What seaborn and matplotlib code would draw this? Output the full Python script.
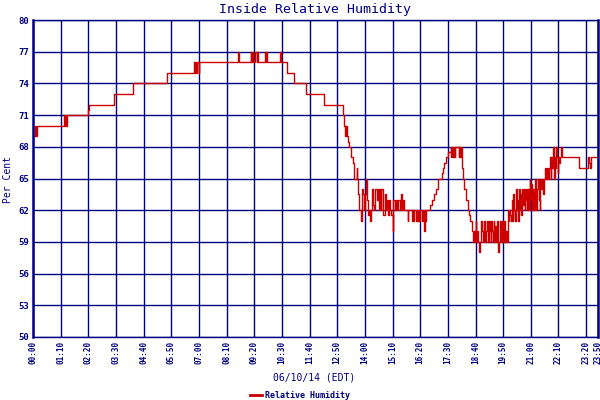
import matplotlib
matplotlib.use("Agg")
import matplotlib.pyplot as plt
import seaborn as sns
import pandas as pd

# ---- data (minutes after midnight, relative humidity %) ----
minutes = [
    0, 5, 7, 10, 78, 80, 82, 84, 86, 138, 141, 204, 253, 339,
    407, 409, 411, 413, 416, 419, 421, 519, 521, 551, 553, 555, 556,
    562, 566, 567, 569, 587, 589, 590, 591, 625, 628, 644, 661, 692, 737,
    785, 788, 790, 792, 794, 797, 800, 804, 810, 813, 819, 821,
    823, 826, 829, 831, 833, 836, 838, 840, 844, 846, 848, 851, 853, 856,
    858, 861, 864, 866, 870, 872, 875, 877, 880, 882, 885, 887, 890, 893,
    896, 898, 901, 904, 907, 910, 911, 916, 918, 922, 924, 930,
    932, 934, 936, 938, 948, 950, 959, 961, 963, 965, 969, 972, 974, 976,
    978, 980, 984, 986, 989, 991, 993, 995,
    1006, 1010, 1016, 1019, 1024, 1035, 1038, 1041, 1046, 1050, 1057,
    1059, 1061, 1063, 1065, 1067, 1069, 1077, 1079, 1081, 1083,
    1085, 1088, 1092, 1096, 1100, 1104, 1107, 1110, 1113,
    1116, 1118, 1120, 1122, 1125, 1127, 1130, 1132, 1135, 1137, 1139, 1142,
    1144, 1147, 1149, 1151, 1154, 1156, 1158, 1160, 1162, 1164, 1166, 1168,
    1170, 1172, 1175, 1177, 1179, 1182, 1184, 1186, 1188, 1190, 1193, 1195,
    1197, 1199,
    1202, 1204, 1206, 1208, 1210,
    1212, 1214, 1216, 1218, 1220, 1222, 1224, 1226, 1228, 1230, 1232, 1234,
    1236, 1238, 1240, 1242, 1244, 1246, 1248, 1250,
    1253, 1255, 1257, 1259, 1261, 1263, 1265, 1267, 1270, 1272, 1274, 1276,
    1278, 1280, 1282, 1284, 1286,
    1288, 1291, 1293, 1295, 1298, 1300, 1303, 1305, 1308,
    1310, 1312, 1314, 1316, 1318, 1320, 1322, 1324, 1326, 1328, 1330, 1332,
    1334, 1336, 1338,
    1381, 1405, 1408, 1410, 1412, 1430,
]
humidity = [
    69, 70, 69, 70, 71, 70, 71, 70, 71, 71.5, 72, 73, 74, 75,
    76, 75, 76, 75, 76, 75, 76, 77, 76, 77, 76, 77, 76,
    77, 76, 77, 76, 77, 76, 77, 76, 77, 76, 75, 74, 73, 72,
    71, 70, 69, 70, 69, 68.5, 68, 67, 66.5, 65, 66, 65,
    63.5, 62, 61.5, 61, 64, 63.5, 62, 63.5, 65, 63, 61.5, 62, 61, 62,
    64, 62.5, 62, 64, 63, 64, 62, 64, 62, 64, 63, 61.5, 63.5, 62,
    63, 61.5, 63, 62, 61.5, 60, 63, 62, 63, 62, 63, 62,
    63.5, 62, 63, 62, 61, 62, 61, 62, 61, 62, 61, 62, 61, 62,
    61, 62, 61, 62, 60, 62, 61, 62,
    62.5, 63, 63.5, 64, 65, 65.5, 66, 66.5, 67, 67.5, 68,
    67, 68, 67, 68, 67, 68, 67, 68, 67, 68,
    66, 65, 64, 63, 62, 61.5, 61, 60, 59,
    60, 59, 61, 59, 60, 59, 58, 59, 61, 60, 59, 61,
    59, 60, 61, 59, 61, 60, 59, 61, 60, 59, 61, 59,
    60.5, 59, 61, 58, 59, 61, 59, 60, 61, 59, 61, 59,
    60, 59,
    62, 61, 62, 61.5, 61,
    63, 61, 63.5, 62, 61, 64, 62, 63, 61, 64, 62, 63.5,
    61.5, 64, 62.5, 64, 62, 63, 64, 62,
    64, 62, 65, 63, 64.5, 62, 64, 62, 65, 63, 62, 64,
    65, 63, 62, 65, 64,
    65, 63.5, 65, 66, 65, 66, 65, 66, 67,
    65, 67, 66, 68, 65, 67, 66, 68, 67, 65.5, 67, 66.5,
    67, 68, 67,
    66, 67, 66.5, 66, 67, 67,
]

tick_minutes = [0, 70, 140, 210, 280, 350, 420, 490, 560, 630, 700, 770,
                840, 910, 980, 1050, 1120, 1190, 1260, 1330, 1400, 1430]
tick_labels = ["00:00", "01:10", "02:20", "03:30", "04:40", "05:50", "07:00",
               "08:10", "09:20", "10:30", "11:40", "12:50", "14:00", "15:10",
               "16:20", "17:30", "18:40", "19:50", "21:00", "22:10", "23:20",
               "23:50"]
y_ticks = [50, 53, 56, 59, 62, 65, 68, 71, 74, 77, 80]

title = "Inside Relative Humidity"
x_title = "06/10/14 (EDT)"
y_title = "Per Cent"
series_name = "Relative Humidity"

NAVY = "#000080"
RED = "#cc0000"
MONO = "DejaVu Sans Mono"

df = pd.DataFrame({"minute": minutes, "rh": humidity})

fig = plt.figure(figsize=(6, 4), dpi=100, facecolor="white")
ax = fig.add_axes([33 / 600, 1 - 337 / 400, 565 / 600, 317 / 400])
ax.set_facecolor("white")

sns.lineplot(data=df, x="minute", y="rh", drawstyle="steps-post",
             color=RED, lw=1.0, estimator=None, ax=ax, label=series_name,
             legend=False)

ax.set_xlim(0, 1430)
ax.set_ylim(50, 80)
ax.set_xticks(tick_minutes)
ax.set_xticklabels(tick_labels, rotation=90, family=MONO, fontsize=5.5,
                   fontweight="bold", color=NAVY)
ax.set_yticks(y_ticks)
ax.set_yticklabels([str(v) for v in y_ticks], family=MONO, fontsize=6.5,
                   fontweight="bold", color=NAVY)
ax.tick_params(axis="both", length=0, pad=3)
ax.grid(True, color=NAVY, lw=1.0)
ax.set_axisbelow(True)

for side, spine in ax.spines.items():
    spine.set_color(NAVY)
    spine.set_linewidth(1.8 if side in ("left", "right") else 1.0)

ax.set_xlabel("")
ax.set_ylabel("")
fig.text(315 / 600, 1 - 9 / 400, title, ha="center", va="center", family=MONO,
         fontsize=9.5, color=NAVY)
fig.text(314 / 600, 1 - 378 / 400, x_title, ha="center", va="center",
         family=MONO, fontsize=7, color=NAVY)
fig.text(8 / 600, 1 - 180 / 400, y_title, ha="center", va="center",
         rotation=90, family=MONO, fontsize=7, color=NAVY)

handle = ax.lines[0]
leg = fig.legend([handle], [series_name], loc="center",
                 bbox_to_anchor=(300 / 600, 1 - 395 / 400), frameon=False,
                 handlelength=1.5, handletextpad=0.4, borderpad=0,
                 prop={"family": MONO, "size": 6, "weight": "bold"})
for t in leg.get_texts():
    t.set_color(NAVY)
for l in leg.get_lines():
    l.set_linewidth(2)

fig.savefig("out.png", dpi=100, facecolor="white")
